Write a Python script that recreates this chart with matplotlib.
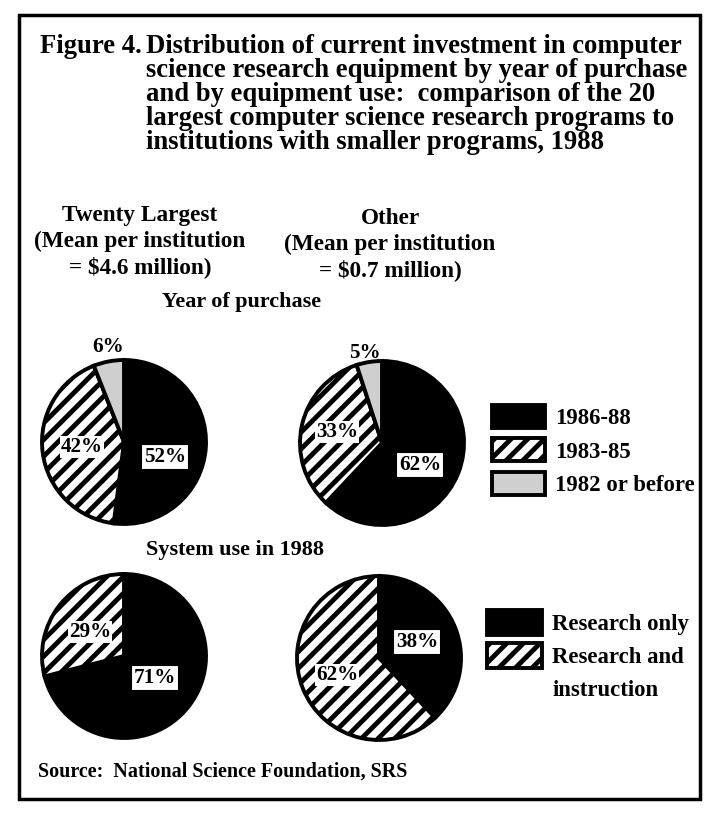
import matplotlib
matplotlib.use("Agg")
import matplotlib.pyplot as plt
from matplotlib.patches import Rectangle

plt.rcParams['font.family'] = ['Liberation Serif', 'DejaVu Serif']
plt.rcParams['font.weight'] = 'bold'
plt.rcParams['hatch.linewidth'] = 3.5

# data
year_labels = ['1986-88', '1983-85', '1982 or before']
year_largest = [52, 42, 6]
year_other = [62, 33, 5]
use_labels = ['Research only', 'Research and']
use_largest = [71, 29]
use_other = [38, 62]

title_lines = ['Distribution of current investment in computer',
               'science research equipment by year of purchase',
               'and by equipment use:  comparison of the 20',
               'largest computer science research programs to',
               'institutions with smaller programs, 1988']
head_largest = ['Twenty Largest', '(Mean per institution', '= $4.6 million)']
head_other = ['Other', '(Mean per institution', '= $0.7 million)']

W, H = 705, 813
fig = plt.figure(figsize=(W / 100, H / 100), dpi=100)
ax = fig.add_axes([0, 0, 1, 1])


def Y(y):
    return H - y


year_colors = ['black', 'white', '#cfcfcf']
year_hatch = ['', '//', '']
use_colors = ['black', 'white']
use_hatch = ['', '//']
wp = dict(edgecolor='black', linewidth=2.8)

r = 82
w1, _ = ax.pie(year_largest, colors=year_colors, hatch=year_hatch, startangle=90,
               counterclock=False, center=(124, Y(442)), radius=r, wedgeprops=wp)
w2, _ = ax.pie(year_other, colors=year_colors, hatch=year_hatch, startangle=90,
               counterclock=False, center=(382, Y(443)), radius=r, wedgeprops=wp)
w3, _ = ax.pie(use_largest, colors=use_colors, hatch=use_hatch, startangle=90,
               counterclock=False, center=(124, Y(656)), radius=r, wedgeprops=wp)
w4, _ = ax.pie(use_other, colors=use_colors, hatch=use_hatch, startangle=90,
               counterclock=False, center=(379, Y(658)), radius=r, wedgeprops=wp)

ax.set_xlim(0, W)
ax.set_ylim(0, H)
ax.set_aspect('equal')
ax.axis('off')

renderer = fig.canvas.get_renderer()


def fit(s, width):
    t = ax.text(0, 0, s, fontsize=10)
    w = t.get_window_extent(renderer).width
    t.remove()
    return 10 * width / w


# percent labels
fs_pct = fit('52%', 42)
box = dict(boxstyle='square,pad=0.12', fc='white', ec='black', lw=1.5)
soft = dict(boxstyle='square,pad=0.05', fc='white', ec='none')
pct = [(f'{year_largest[0]}%', 165, 457, box), (f'{year_largest[1]}%', 82, 447, soft),
       (f'{year_largest[2]}%', 108, 347, None),
       (f'{year_other[0]}%', 420, 465, box), (f'{year_other[1]}%', 337, 432, soft),
       (f'{year_other[2]}%', 365, 353, None),
       (f'{use_largest[0]}%', 155, 678, box), (f'{use_largest[1]}%', 90, 632, soft),
       (f'{use_other[0]}%', 417, 642, box), (f'{use_other[1]}%', 337, 675, soft)]
for s, x, y, b in pct:
    ax.text(x, Y(y), s, fontsize=fs_pct, ha='center', va='center', bbox=b)

# title
fs_title = fit(title_lines[1], 545)
ax.text(40, Y(46), 'Figure 4.', fontsize=fs_title, ha='left', va='center')
for i, line in enumerate(title_lines):
    ax.text(146, Y(46 + 24 * i), line, fontsize=fs_title, ha='left', va='center')

# column headers
fs_head = fit(head_largest[1], 212)
for i, (a, b) in enumerate(zip(head_largest, head_other)):
    ax.text(140, Y(215 + 26 * i), a, fontsize=fs_head, ha='center', va='center')
    ax.text(390, Y(218 + 26 * i), b, fontsize=fs_head, ha='center', va='center')

fs_sub = fit('Year of purchase', 160)
ax.text(242, Y(302), 'Year of purchase', fontsize=fs_sub, ha='center', va='center')
ax.text(235, Y(550), 'System use in 1988', fontsize=fs_sub, ha='center', va='center')

# legends
fs_leg = fit('1982 or before', 140)
em = fs_leg * 100 / 72
leg1 = ax.legend(w1, year_labels, loc='upper left', bbox_to_anchor=(492 / W, Y(405) / H),
                 frameon=False, fontsize=fs_leg, handlelength=53 / em, handleheight=27 / em,
                 labelspacing=0.4, handletextpad=0.45, borderaxespad=0, borderpad=0)
ax.add_artist(leg1)
ax.legend(w4, use_labels, loc='upper left', bbox_to_anchor=(487 / W, Y(610) / H),
          frameon=False, fontsize=fs_leg, handlelength=55 / em, handleheight=30 / em,
          labelspacing=0.35, handletextpad=0.45, borderaxespad=0, borderpad=0)
ax.text(553, Y(690), 'instruction', fontsize=fs_leg, ha='left', va='center')

fs_src = fit('Source:  National Science Foundation, SRS', 370)
ax.text(38, Y(772), 'Source:  National Science Foundation, SRS', fontsize=fs_src,
        ha='left', va='center')

# frame
ax.add_patch(Rectangle((19, Y(799)), 681, 784, fill=False, ec='black', lw=2.5))

fig.savefig('out.png', dpi=100, facecolor='white')
